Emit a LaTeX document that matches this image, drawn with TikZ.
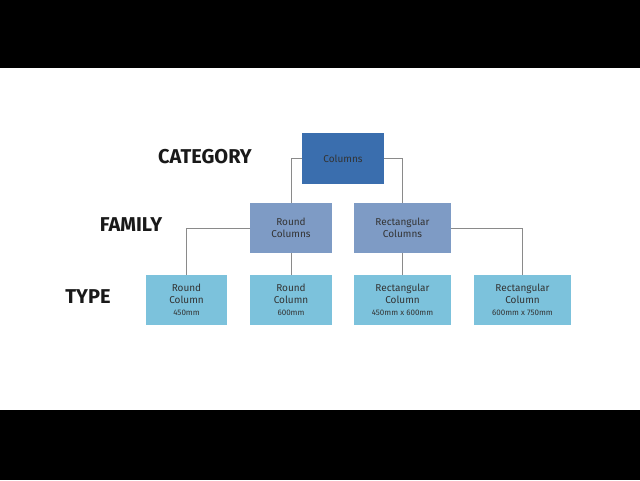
\documentclass[tikz,border=0pt]{standalone}
\usepackage{fontspec}
\setmainfont{Fira Sans}
\definecolor{cat}{HTML}{3A6EAE}
\definecolor{fam}{HTML}{7E9BC5}
\definecolor{typ}{HTML}{7CC2DC}
\definecolor{ln}{HTML}{8A8A8A}
\begin{document}
\begin{tikzpicture}[x=1pt,y=-1pt,
  box/.style={draw=none,inner sep=0pt,align=center,font=\fontsize{10}{12}\selectfont,text=black!80},
  lbl/.style={font=\fontsize{20}{24}\selectfont\bfseries,text=black!90},
  con/.style={draw=ln,line width=0.8pt},
  sm/.style={font=\fontsize{8}{10}\selectfont}]
\fill[white] (0,0) rectangle (640,480);
\fill[black] (0,0) rectangle (640,68);
\fill[black] (0,410) rectangle (640,480);
\useasboundingbox (0,0) rectangle (640,480);
\node[box,fill=cat,minimum width=82pt,minimum height=51pt] (c) at (343,158.5) {Columns};
\node[box,fill=fam,minimum width=82pt,minimum height=50pt] (f1) at (291,228) {Round\\Columns};
\node[box,fill=fam,minimum width=97pt,minimum height=50pt] (f2) at (402.5,228) {Rectangular\\Columns};
\node[box,fill=typ,minimum width=81pt,minimum height=50pt] (t1) at (186.5,300) {Round\\Column\\{\fontsize{8}{10}\selectfont 450mm}};
\node[box,fill=typ,minimum width=82pt,minimum height=50pt] (t2) at (291,300) {Round\\Column\\{\fontsize{8}{10}\selectfont 600mm}};
\node[box,fill=typ,minimum width=97pt,minimum height=50pt] (t3) at (402.5,300) {Rectangular\\Column\\{\fontsize{8}{10}\selectfont 450mm x 600mm}};
\node[box,fill=typ,minimum width=97pt,minimum height=50pt] (t4) at (522.5,300) {Rectangular\\Column\\{\fontsize{8}{10}\selectfont 600mm x 750mm}};
\node[lbl] (lc) at (205,157) {CATEGORY};
\node[lbl] (lf) at (131,225) {FAMILY};
\node[lbl] (lt) at (88,297) {TYPE};
\draw[con] (c.west) -| (f1.north);
\draw[con] (c.east) -| (f2.north);
\draw[con] (f1.west) -| (t1.north);
\draw[con] (f1.south) -- (t2.north);
\draw[con] (f2.south) -- (t3.north);
\draw[con] (f2.east) -| (t4.north);
\end{tikzpicture}
\end{document}
